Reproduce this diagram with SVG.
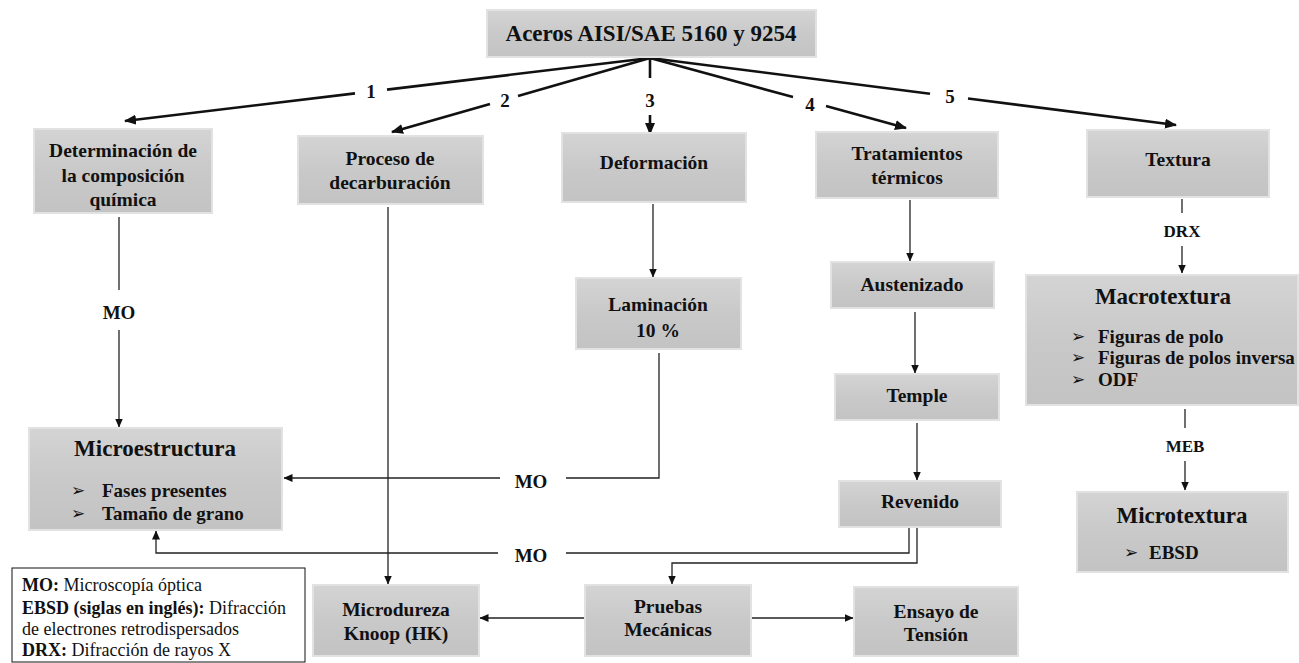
<svg xmlns="http://www.w3.org/2000/svg" width="1299" height="663" viewBox="0 0 1299 663">
<style>
.box{fill:url(#gray);stroke:#e2e2e2;stroke-width:2}
.t{font-family:'Liberation Serif','DejaVu Serif',serif;font-weight:bold;font-size:19.5px;fill:#111;text-anchor:middle;dominant-baseline:central}
.big{font-size:23px}
.l{text-anchor:start;font-size:19px}
.bul{font-family:'DejaVu Sans',sans-serif;font-size:17px;font-weight:bold;fill:#111;dominant-baseline:central}
.thick{stroke:#111;stroke-width:2.6;fill:none}
.thin{stroke:#222;stroke-width:1.3;fill:none}
.lab{font-family:'Liberation Serif','DejaVu Serif',serif;font-weight:bold;font-size:19px;fill:#111;text-anchor:middle;dominant-baseline:central}
.leg{font-family:'Liberation Serif','DejaVu Serif',serif;font-size:18px;fill:#111}
</style>
<defs>
<linearGradient id="gray" x1="0" y1="0" x2="0" y2="1">
<stop offset="0" stop-color="#d4d4d4"/>
<stop offset="0.5" stop-color="#c9c9c9"/>
<stop offset="1" stop-color="#c3c3c3"/>
</linearGradient>
<marker id="ah" viewBox="0 0 12 10" refX="11" refY="5" markerWidth="12" markerHeight="10" markerUnits="userSpaceOnUse" orient="auto">
<path d="M0,0 L12,5 L0,10 Z" fill="#111"/>
</marker>
<marker id="as" viewBox="0 0 9 8" refX="8.5" refY="4" markerWidth="9" markerHeight="8" markerUnits="userSpaceOnUse" orient="auto">
<path d="M0,0 L9,4 L0,8 Z" fill="#111"/>
</marker>
</defs>
<rect width="1299" height="663" fill="#fff"/>

<g id="connectors">
<line class="thick" x1="650" y1="58" x2="387" y2="89.6"/>
<line class="thick" x1="355" y1="93.4" x2="125" y2="121" marker-end="url(#ah)"/>
<text class="lab" x="371" y="91">1</text>
<line class="thick" x1="650" y1="58" x2="518" y2="95.9"/>
<line class="thick" x1="490" y1="103.9" x2="392" y2="132" marker-end="url(#ah)"/>
<text class="lab" x="505" y="100">2</text>
<line class="thick" x1="650" y1="58" x2="650" y2="78"/>
<line class="thick" x1="650" y1="115" x2="650" y2="134" marker-end="url(#ah)"/>
<text class="lab" x="650" y="100">3</text>
<line class="thick" x1="650" y1="58" x2="793" y2="97.1"/>
<line class="thick" x1="826" y1="106.1" x2="906" y2="128" marker-end="url(#ah)"/>
<text class="lab" x="810" y="104">4</text>
<line class="thick" x1="650" y1="58" x2="930" y2="93.7"/>
<line class="thick" x1="968" y1="98.5" x2="1176" y2="125" marker-end="url(#ah)"/>
<text class="lab" x="950" y="96">5</text>

<line class="thin" x1="119" y1="217" x2="119" y2="290"/>
<line class="thin" x1="119" y1="330" x2="119" y2="427" marker-end="url(#as)"/>
<text class="lab" x="119" y="312">MO</text>
<line class="thin" x1="388" y1="207" x2="388" y2="584" marker-end="url(#as)"/>
<line class="thin" x1="653" y1="204" x2="653" y2="277" marker-end="url(#as)"/>
<polyline class="thin" points="659,353 659,478 566,478"/>
<line class="thin" x1="500" y1="478" x2="284" y2="478" marker-end="url(#as)"/>
<text class="lab" x="531" y="481">MO</text>
<line class="thin" x1="910" y1="200" x2="910" y2="261" marker-end="url(#as)"/>
<line class="thin" x1="915" y1="312" x2="915" y2="373" marker-end="url(#as)"/>
<line class="thin" x1="917" y1="423" x2="917" y2="480" marker-end="url(#as)"/>
<polyline class="thin" points="909,527 909,553 566,553"/>
<polyline class="thin" points="498,553 156,553 156,531" marker-end="url(#as)"/>
<text class="lab" x="531" y="555">MO</text>
<polyline class="thin" points="917,527 917,563 672,563 672,584" marker-end="url(#as)"/>
<line class="thin" x1="585" y1="618" x2="480" y2="618" marker-end="url(#as)"/>
<line class="thin" x1="751" y1="618" x2="853" y2="618" marker-end="url(#as)"/>
<line class="thin" x1="1182" y1="199" x2="1182" y2="213"/>
<line class="thin" x1="1182" y1="246" x2="1182" y2="273" marker-end="url(#as)"/>
<text class="lab" x="1182" y="231" style="font-size:17px">DRX</text>
<line class="thin" x1="1185" y1="409" x2="1185" y2="428"/>
<line class="thin" x1="1185" y1="461" x2="1185" y2="490" marker-end="url(#as)"/>
<text class="lab" x="1185" y="446" style="font-size:17px">MEB</text>
</g>

<g id="n-top"><rect class="box" x="487" y="10" width="329" height="47"/><text class="t big" x="651" y="33">Aceros AISI/SAE 5160 y 9254</text></g>
<g id="n-det"><rect class="box" x="34" y="129" width="178" height="84"/>
<text class="t" x="123" y="150">Determinación de</text><text class="t" x="123" y="175">la composición</text><text class="t" x="123" y="199">química</text></g>
<g id="n-proc"><rect class="box" x="298" y="136" width="185" height="68"/>
<text class="t" x="390" y="158">Proceso de</text><text class="t" x="390" y="182">decarburación</text></g>
<g id="n-def"><rect class="box" x="562" y="133" width="184" height="69"/><text class="t" x="654" y="162">Deformación</text></g>
<g id="n-trat"><rect class="box" x="816" y="132" width="182" height="66"/>
<text class="t" x="907" y="153">Tratamientos</text><text class="t" x="907" y="177">térmicos</text></g>
<g id="n-text"><rect class="box" x="1087" y="130" width="182" height="67"/><text class="t" x="1178" y="159">Textura</text></g>
<g id="n-lam"><rect class="box" x="576" y="278" width="165" height="71"/>
<text class="t" x="658" y="304">Laminación</text><text class="t" x="658" y="330">10 %</text></g>
<g id="n-aust"><rect class="box" x="831" y="262" width="163" height="46"/><text class="t" x="912" y="284">Austenizado</text></g>
<g id="n-temple"><rect class="box" x="835" y="374" width="164" height="46"/><text class="t" x="917" y="395">Temple</text></g>
<g id="n-rev"><rect class="box" x="839" y="481" width="162" height="46"/><text class="t" x="920" y="501">Revenido</text></g>
<g id="n-macro"><rect class="box" x="1026" y="275" width="272" height="130"/>
<text class="t big" x="1163" y="296">Macrotextura</text>
<text class="bul" x="1071" y="336">➢</text><text class="t l" x="1098" y="336">Figuras de polo</text>
<text class="bul" x="1071" y="357">➢</text><text class="t l" x="1098" y="357">Figuras de polos inversa</text>
<text class="bul" x="1071" y="379">➢</text><text class="t l" x="1098" y="379">ODF</text></g>
<g id="n-microtext"><rect class="box" x="1077" y="492" width="211" height="80"/>
<text class="t big" x="1182" y="515">Microtextura</text>
<text class="bul" x="1124" y="552">➢</text><text class="t l" x="1149" y="552">EBSD</text></g>
<g id="n-microest"><rect class="box" x="29" y="428" width="253" height="102"/>
<text class="t big" x="155" y="448">Microestructura</text>
<text class="bul" x="71" y="490">➢</text><text class="t l" x="102" y="490">Fases presentes</text>
<text class="bul" x="71" y="513">➢</text><text class="t l" x="102" y="513">Tamaño de grano</text></g>
<g id="n-microdur"><rect class="box" x="313" y="585" width="166" height="71"/>
<text class="t" x="396" y="609">Microdureza</text><text class="t" x="396" y="633">Knoop (HK)</text></g>
<g id="n-pruebas"><rect class="box" x="585" y="585" width="166" height="71"/>
<text class="t" x="668" y="606">Pruebas</text><text class="t" x="668" y="629">Mecánicas</text></g>
<g id="n-ensayo"><rect class="box" x="854" y="587" width="164" height="69"/>
<text class="t" x="936" y="611">Ensayo de</text><text class="t" x="936" y="634">Tensión</text></g>
<g id="legend"><rect x="12" y="568" width="293" height="94" fill="#fff" stroke="#111" stroke-width="1"/>
<text class="leg" x="22" y="591"><tspan font-weight="bold">MO:</tspan> Microscopía óptica</text>
<text class="leg" x="22" y="614"><tspan font-weight="bold">EBSD (siglas en inglés):</tspan> Difracción</text>
<text class="leg" x="22" y="635">de electrones retrodispersados</text>
<text class="leg" x="22" y="656"><tspan font-weight="bold">DRX:</tspan> Difracción de rayos X</text></g>
</svg>
